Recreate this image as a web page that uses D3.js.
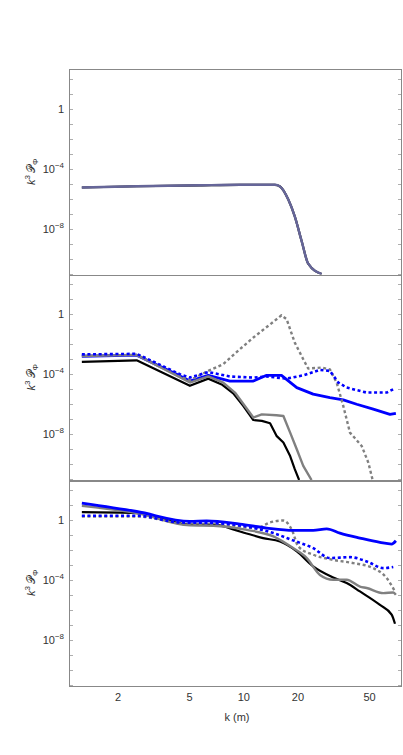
<!DOCTYPE html>
<html>
<head>
<meta charset="utf-8">
<script src="https://cdn.jsdelivr.net/npm/d3@7"></script>
<style>
  body { margin: 0; background: #fff; }
  svg { display: block; font-family: "Liberation Sans", Arial, sans-serif; }
</style>
</head>
<body>
<svg id="chart" width="403" height="755"></svg>
<script>
// x tick labels and labelled y decades
const xTicks = [2, 5, 10, 20, 50];
const yLabelled = [0, -4, -8];

// panel 1: all runs lie on top of each other
const p1Curve = [[1.26, 5.6e-6], [2.54, 6.8e-6], [5.7, 7.9e-6], [9.5, 8.5e-6], [14.9, 8.5e-6],
  [15.9, 6.6e-6], [17.7, 8.5e-7], [19.2, 6.6e-8], [21.0, 1.4e-9], [22.8, 4.7e-11], [27.1, 9.5e-12]];

// panel 2
const p2Black = [[1.26, 6.6e-4], [2.54, 8.5e-4], [5.02, 1.7e-5], [6.35, 5.1e-5], [7.54, 2.1e-5],
  [8.74, 5.4e-6], [9.93, 7.8e-7], [11.3, 8.9e-8], [12.6, 7.8e-8], [14.0, 5.4e-8], [15.2, 7.8e-9],
  [16.6, 2.8e-9], [18.1, 3.5e-10], [19.2, 4.7e-11], [20.3, 8.9e-12]];
const p2Gray = [[1.26, 1.66e-3], [2.54, 1.95e-3], [5.02, 2.8e-5], [6.35, 7.1e-5], [7.69, 2.8e-5],
  [8.93, 6.0e-6], [11.3, 1.29e-7], [12.6, 2.1e-7], [15.2, 1.86e-7], [16.6, 1.66e-7], [18.1, 1.29e-8],
  [19.7, 1e-9], [21.4, 7.8e-11], [23.8, 8.9e-12]];
const p2Blue = [[1.26, 1.58e-3], [2.54, 1.86e-3], [4.42, 7.8e-5], [5.02, 3.5e-5], [6.35, 8.5e-5],
  [8.38, 3.5e-5], [11.3, 3.5e-5], [13.4, 8.5e-5], [16.2, 8.5e-5], [19.7, 1.29e-5], [24.3, 4.7e-6],
  [30.1, 2.8e-6], [35.7, 1.95e-6], [42.4, 1e-6], [52.4, 4.7e-7], [64.9, 2.1e-7], [70.0, 2.5e-7]];
const p2GrayDash = [[1.26, 1.86e-3], [2.54, 2.0e-3], [5.02, 4.0e-5], [6.35, 1.66e-4], [7.69, 4.7e-4],
  [9.52, 4.7e-3], [11.3, 2.8e-2], [14.0, 0.21], [16.2, 0.85], [17.3, 0.47], [19.2, 1.29e-2],
  [21.4, 1e-3], [22.8, 2.4e-4], [27.1, 2.8e-4], [30.1, 2.1e-4], [32.8, 2.8e-5], [35.7, 7.8e-7],
  [38.9, 1.29e-8], [45.2, 1.66e-9], [49.2, 1.29e-10], [52.0, 8.9e-12]];
const p2BlueDash = [[1.26, 2.1e-3], [2.54, 2.3e-3], [4.42, 1e-4], [5.02, 6.0e-5], [6.35, 1.41e-4],
  [8.38, 7.1e-5], [11.3, 6.0e-5], [13.4, 7.1e-5], [17.3, 5.1e-5], [21.4, 8.5e-5], [26.5, 1.95e-4],
  [30.1, 1.66e-4], [33.5, 2.8e-5], [37.3, 1.29e-5], [48.2, 6.0e-6], [62.2, 6.0e-6], [67.7, 1e-5]];

// panel 3
const p3Black = [[1.26, 3.2], [2.54, 2.8], [5.02, 0.47], [6.77, 0.47], [9.52, 0.166], [12.8, 0.060],
  [15.9, 0.035], [19.7, 7.8e-3], [24.3, 7.8e-4], [31.4, 1.41e-4], [37.3, 6.0e-5], [44.2, 1.66e-5],
  [57.1, 2.1e-6], [66.3, 4.7e-7], [69.2, 1.17e-7]];
const p3Gray = [[1.26, 8.5], [2.54, 2.8], [5.02, 0.42], [6.77, 0.40], [10.4, 0.21], [14.6, 0.078],
  [18.8, 0.0129], [22.4, 2.8e-3], [26.5, 2.1e-4], [31.4, 1e-4], [37.3, 1e-4], [44.2, 3.5e-5],
  [48.2, 2.8e-5], [59.6, 1.29e-5], [67.7, 1.41e-5], [70.0, 1e-5]];
const p3Blue = [[1.26, 12.9], [2.54, 3.55], [5.02, 0.78], [6.22, 0.85], [9.52, 0.51], [13.4, 0.28],
  [18.8, 0.195], [24.3, 0.195], [28.9, 0.25], [34.2, 0.129], [44.2, 0.060], [57.1, 0.031],
  [66.3, 0.024], [70.0, 0.040]];
const p3GrayDash = [[1.26, 1.66], [2.54, 1.66], [5.02, 0.51], [6.77, 0.54], [11.8, 0.28], [14.0, 0.66],
  [16.6, 0.89], [18.5, 0.21], [20.1, 0.0166], [24.3, 4.7e-3], [31.4, 2.1e-3], [40.6, 1.29e-3],
  [52.4, 6.0e-4], [62.2, 1.29e-4], [69.2, 1.66e-5]];
const p3BlueDash = [[1.26, 1.86], [2.54, 1.86], [4.42, 0.66], [6.77, 0.60], [10.4, 0.35], [14.6, 0.129],
  [18.8, 0.042], [24.3, 0.0129], [30.1, 2.8e-3], [38.9, 3.2e-3], [48.2, 1.66e-3], [59.6, 6.0e-4],
  [67.7, 7.1e-4]];

const styles = {
  black:    { color: '#000', width: 2.2 },
  gray:     { color: '#808080', width: 2.4 },
  blue:     { color: '#0000ff', width: 2.8 },
  grayDash: { color: '#808080', width: 2.4, dash: '3,2.6' },
  blueDash: { color: '#0000ff', width: 2.6, dash: '3,2.6' },
  overlay:  { color: '#0000ff', width: 2.4, opacity: 0.2 }
};

const panels = [
  { top: 69, curve: d3.curveMonotoneX,
    lines: [['black', p1Curve], ['gray', p1Curve], ['overlay', p1Curve]] },
  { top: 274.5, curve: d3.curveLinear,
    lines: [['black', p2Black], ['blue', p2Blue], ['gray', p2Gray], ['grayDash', p2GrayDash], ['blueDash', p2BlueDash]] },
  { top: 480, curve: d3.curveMonotoneX,
    lines: [['black', p3Black], ['gray', p3Gray], ['grayDash', p3GrayDash], ['blueDash', p3BlueDash], ['blue', p3Blue]] }
];

const left = 69, right = 402, panelH = 205.5;
const svg = d3.select('#chart');
const x = d3.scaleLog().domain([1.069, 75.7]).range([left, right]);
const decades = d3.range(-11, 3);

panels.forEach((p, i) => {
  const y = d3.scaleLog().domain([8.9e-12, 4.47e2]).range([p.top + panelH, p.top]);
  const g = svg.append('g');

  g.append('clipPath').attr('id', 'clip' + i)
    .append('rect').attr('x', left).attr('y', p.top).attr('width', right - left).attr('height', panelH);

  // tick marks on both sides
  decades.forEach(e => {
    const yy = Math.round(y(10 ** e)) + 0.5;
    g.append('line').attr('x1', left).attr('x2', left + 4).attr('y1', yy).attr('y2', yy)
      .attr('stroke', '#999').attr('stroke-width', 0.8);
    g.append('line').attr('x1', right - 4).attr('x2', right).attr('y1', yy).attr('y2', yy)
      .attr('stroke', '#999').attr('stroke-width', 0.8);
  });

  // tick labels
  yLabelled.forEach(e => {
    const t = g.append('text').attr('x', 64).attr('y', y(10 ** e) + 4)
      .attr('text-anchor', 'end').attr('font-size', 11).attr('fill', '#333');
    if (e === 0) t.text('1');
    else {
      t.append('tspan').text('10');
      t.append('tspan').attr('dy', -5).attr('font-size', 8).text('\u2212' + (-e));
    }
  });

  // y title
  const lab = g.append('text')
    .attr('transform', `translate(35,${p.top + panelH / 2}) rotate(-90)`)
    .attr('text-anchor', 'middle').attr('font-size', 11).attr('fill', '#333');
  lab.append('tspan').attr('font-style', 'italic').text('k');
  lab.append('tspan').attr('dy', -5).attr('font-size', 8).text('3');
  lab.append('tspan').attr('dy', 5).text('\u2009\ud835\udcab');
  lab.append('tspan').attr('dy', 3).attr('font-size', 8).text('\u03a6');

  const line = d3.line()
    .x(d => x(d[0]))
    .y(d => y(d[1]))
    .curve(p.curve);

  const lg = g.append('g').attr('clip-path', `url(#clip${i})`);
  p.lines.forEach(([key, data]) => {
    const s = styles[key];
    lg.append('path')
      .attr('d', line(data))
      .attr('fill', 'none')
      .attr('stroke', s.color)
      .attr('stroke-width', s.width)
      .attr('stroke-opacity', s.opacity || 1)
      .attr('stroke-dasharray', s.dash || null)
      .attr('stroke-linejoin', 'round');
  });

  // frame
  g.append('rect')
    .attr('x', left + 0.5).attr('y', Math.round(p.top) + 0.5)
    .attr('width', right - left - 1).attr('height', Math.round(panelH))
    .attr('fill', 'none').attr('stroke', '#888').attr('stroke-width', 1);
});

// x tick labels and title under the last panel
const xg = svg.append('g');
xg.selectAll('text.tick')
  .data(xTicks)
  .join('text')
    .attr('class', 'tick')
    .attr('x', d => x(d))
    .attr('y', 701)
    .attr('text-anchor', 'middle')
    .attr('font-size', 11)
    .attr('fill', '#333')
    .text(d => d);

xg.append('text')
  .attr('x', 237).attr('y', 721)
  .attr('text-anchor', 'middle').attr('font-size', 11).attr('fill', '#333')
  .text('k (m)');
</script>
</body>
</html>
